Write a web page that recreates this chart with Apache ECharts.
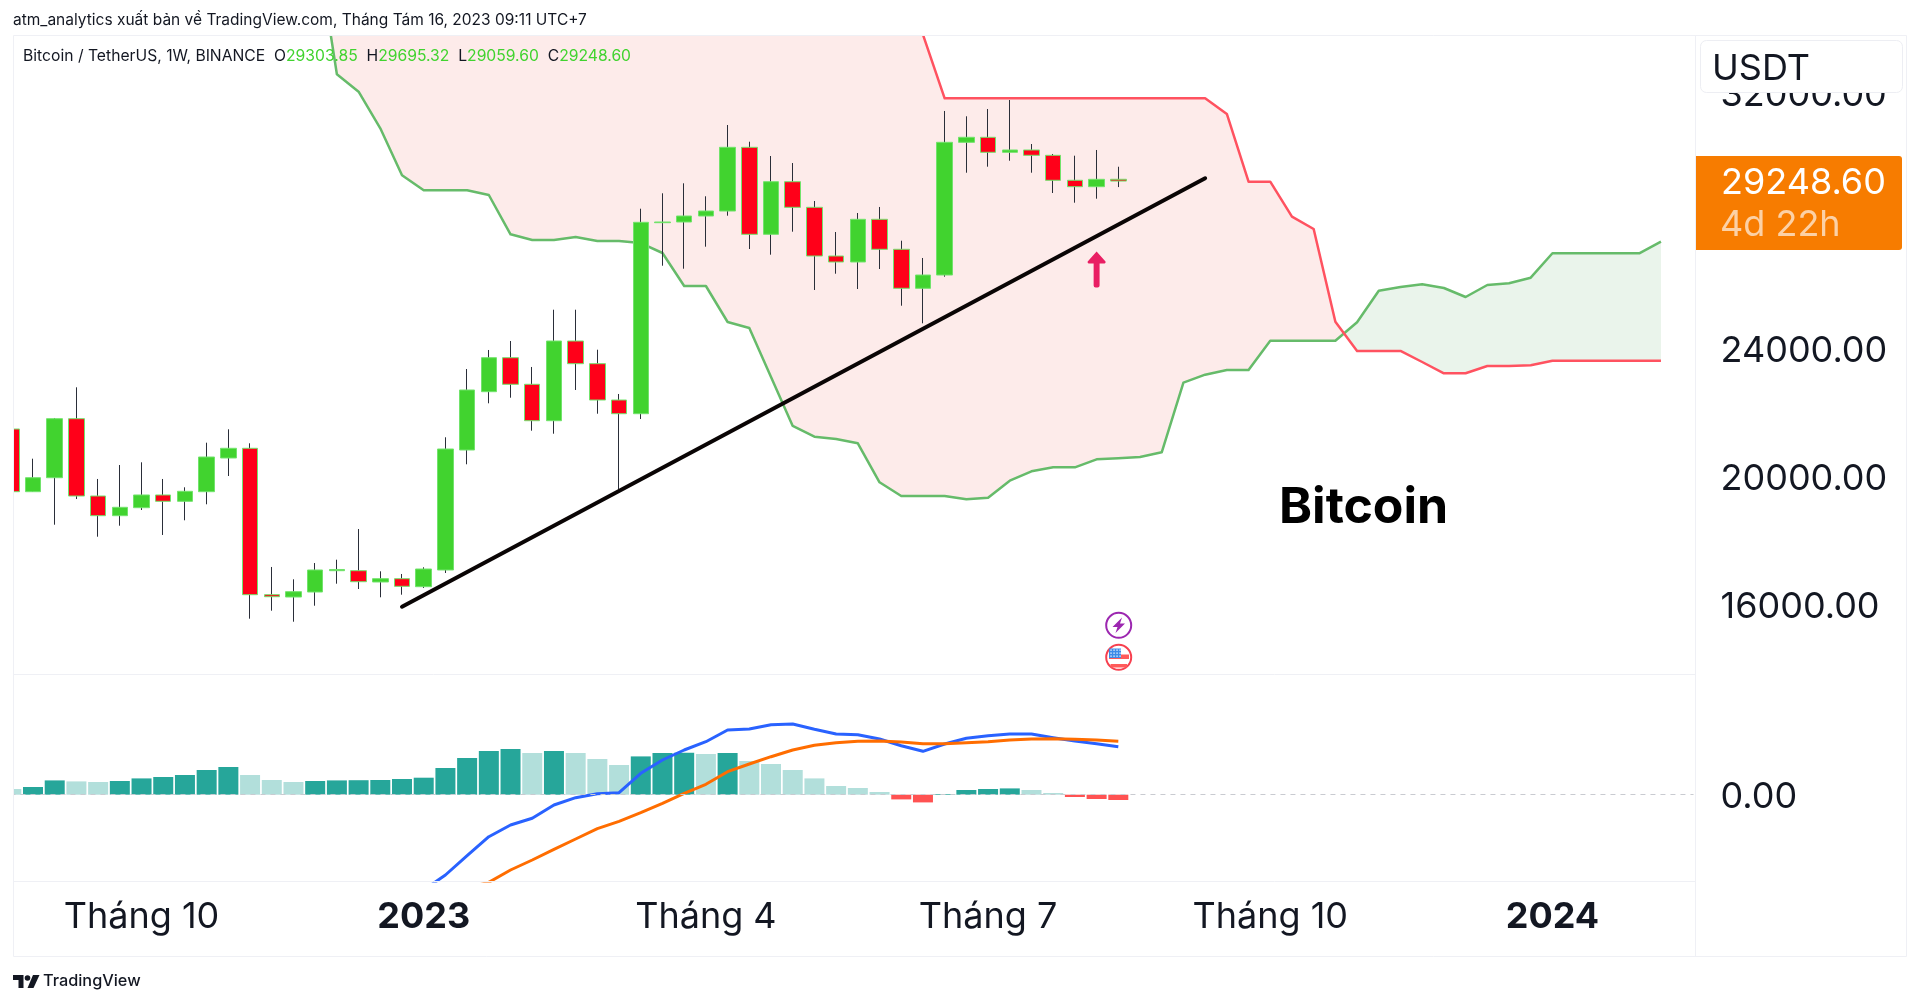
<!DOCTYPE html>
<html>
<head>
<meta charset="utf-8">
<title>Bitcoin / TetherUS</title>
<script src="https://cdn.jsdelivr.net/npm/echarts@6/dist/echarts.min.js"></script>
<style>
  html, body { margin: 0; padding: 0; background: #fff; }
  #main { width: 1920px; height: 1003px; }
</style>
</head>
<body>
<div id="main"></div>
<script>
const weeks = [
  '2022-08-22','2022-08-29','2022-09-05','2022-09-12','2022-09-19','2022-09-26','2022-10-03','2022-10-10',
  '2022-10-17','2022-10-24','2022-10-31','2022-11-07','2022-11-14','2022-11-21','2022-11-28','2022-12-05',
  '2022-12-12','2022-12-19','2022-12-26','2023-01-02','2023-01-09','2023-01-16','2023-01-23','2023-01-30',
  '2023-02-06','2023-02-13','2023-02-20','2023-02-27','2023-03-06','2023-03-13','2023-03-20','2023-03-27',
  '2023-04-03','2023-04-10','2023-04-17','2023-04-24','2023-05-01','2023-05-08','2023-05-15','2023-05-22',
  '2023-05-29','2023-06-05','2023-06-12','2023-06-19','2023-06-26','2023-07-03','2023-07-10','2023-07-17',
  '2023-07-24','2023-07-31','2023-08-07','2023-08-14','2023-08-21','2023-08-28','2023-09-04','2023-09-11',
  '2023-09-18','2023-09-25','2023-10-02','2023-10-09','2023-10-16','2023-10-23','2023-10-30','2023-11-06',
  '2023-11-13','2023-11-20','2023-11-27','2023-12-04','2023-12-11','2023-12-18','2023-12-25','2024-01-01',
  '2024-01-08','2024-01-15','2024-01-22','2024-01-29','2024-02-05','2024-02-12'
];
const tickDates = ['2022-10-03','2023-01-02','2023-04-03','2023-07-03','2023-10-02','2024-01-01'];
const tickLabels = ['Tháng 10','2023','Tháng 4','Tháng 7','Tháng 10','2024'];
const priceTicks = [16000,20000,24000,28000,32000];

const opens = [21500,19541,19978,21822,19406,18791,19041,19438,19241,19541,20594,20897,16322,16250,16406,17072,17072,16719,16822,16572,17094,20844,22666,23728,22897,21759,24250,23541,22406,21978,27947,27969,28156,28312,30303,27584,29228,28428,26906,26719,28053,27116,25897,26312,30459,30616,30147,30219,30053,29272,29072,29303.85];
const closes = [19541,19978,21822,19406,18791,19053,19438,19241,19553,20625,20897,16322,16259,16416,17094,17110,16728,16822,16584,17125,20875,22719,23728,22897,21759,24250,23541,22406,21978,27959,27969,28156,28312,30303,27584,29228,28428,26906,26719,28053,27116,25897,26312,30459,30616,30147,30219,30053,29272,29072,29303,29248.60];
const lows = [19400,19541,18509,19312,18134,18478,18969,18188,18647,19147,20031,15572,15822,15478,15978,16666,16500,16241,16322,16531,17000,20397,22303,22478,21447,21353,22719,21978,19616,21812,26603,26509,27197,28166,27125,26947,27666,25844,26353,25875,26500,25353,24803,26259,29509,29697,29884,29509,28875,28572,28697,29059.60];
const highs = [21800,20572,21844,22803,19938,20375,20459,19938,19678,21072,21491,21053,17188,16803,17312,17416,18375,17053,16969,17178,21241,23375,23969,24250,23438,25228,25228,23978,22594,28384,28866,29178,28772,31000,30478,30031,29812,28625,27656,28250,28438,27384,26844,31438,31272,31500,31781,30406,30094,30041,30219,29695.32];

// ichimoku cloud edges, null where nothing is drawn; the early red values sit above the pane
const cloudGreen = [null,null,null,null,null,null,null,null,null,null,null,null,null,null,36938,32584,32041,30897,29428,28959,28959,28959,28812,27584,27406,27406,27500,27375,27375,27312,27000,25969,25969,24844,24656,23125,21594,21259,21188,21053,19834,19406,19406,19406,19303,19353,19884,20178,20303,20303,20553,20584,20625,20772,22947,23197,23344,23344,24259,24259,24259,24259,24834,25822,25938,26022,25906,25625,26000,26053,26228,26991,26991,26991,26991,26991,27353,null];
const cloudRed = [null,null,null,null,null,null,null,null,null,null,null,null,null,null,38000,38000,38000,38000,38000,38000,38000,38000,38000,38000,37000,37000,37000,37000,37000,36000,36000,36000,36000,36000,35000,35000,35000,35000,35000,33822,33822,33822,33822,31834,31834,31834,31834,31834,31834,31834,31834,31834,31834,31834,31834,31834,31344,29228,29228,28134,27750,24853,23938,23938,23938,23594,23241,23241,23469,23469,23491,23634,23634,23634,23634,23634,23634,null];

const trendLine = [[18,15947],[55,29334]];
const arrowAt = [50,26484];

const macdHist = [57,77,143,133,127,137,163,177,197,247,277,197,147,127,137,143,145,147,157,170,267,367,437,457,417,437,417,357,297,383,417,420,407,417,337,307,247,163,87,67,27,-47,-77,7,47,57,63,47,17,-23,-43,-53];
const macdLine = [null,null,null,null,null,null,null,null,null,null,null,null,null,null,null,null,null,null,null,-953,-803,-610,-420,-303,-236,-103,-30,10,20,214,347,447,530,647,657,700,707,654,607,600,557,490,434,507,564,590,607,607,570,537,510,480];
const signalLine = [null,null,null,null,null,null,null,null,null,null,null,null,null,null,null,null,null,null,null,null,null,-933,-876,-753,-653,-546,-443,-340,-266,-180,-86,14,104,230,307,380,447,494,520,534,537,527,510,510,520,530,547,557,560,554,547,534];

const INK = '#131722';
const FONT = 'Inter';
const UP = '#41D32F';
const DOWN = '#FF0019';
const EDGE = '#72E36C';
const LAST = opens.length - 1;

const bodies = opens.map((o, i) => [o, closes[i], Math.min(o, closes[i]), Math.max(o, closes[i])]);
const wicks = opens.map((o, i) => [o, closes[i], lows[i], highs[i]]);

function histColor(v, i) {
  const prev = i > 0 ? macdHist[i - 1] : Infinity;
  if (v >= 0) return v > prev ? '#26A69A' : '#B2DFDB';
  return v < prev ? '#FF5252' : '#FFCDD2';
}

// the two clouds meet once, between weeks a and a + 1
function drawCloud(params, api) {
  const first = cloudGreen.findIndex(v => v != null);
  let a = first;
  while (cloudRed[a + 1] != null && cloudRed[a + 1] > cloudGreen[a + 1]) a++;
  let end = a;
  while (cloudRed[end + 1] != null) end++;
  const g = i => api.coord([i, cloudGreen[i]]);
  const r = i => api.coord([i, cloudRed[i]]);
  const ga = g(a), gb = g(a + 1), ra = r(a), rb = r(a + 1);
  const d1 = ga[1] - ra[1], d2 = gb[1] - rb[1];
  const t = d1 / (d1 - d2);
  const cross = [ga[0] + (gb[0] - ga[0]) * t, ga[1] + (gb[1] - ga[1]) * t];
  const pink = [], mint = [cross];
  for (let i = first; i <= a; i++) pink.push(r(i));
  pink.push(cross);
  for (let i = a; i >= first; i--) pink.push(g(i));
  for (let i = a + 1; i <= end; i++) mint.push(g(i));
  for (let i = end; i >= a + 1; i--) mint.push(r(i));
  return {
    type: 'group',
    children: [
      { type: 'polygon', shape: { points: pink }, style: { fill: '#FDEBEA' } },
      { type: 'polygon', shape: { points: mint }, style: { fill: '#EAF4EB' } }
    ]
  };
}

const lineOpts = (color, width) => ({
  type: 'line', showSymbol: false, symbol: 'none', silent: true, animation: false,
  lineStyle: { color: color, width: width, join: 'round' }
});

// white dots of the flag badge
const flagDots = [];
[1111, 1114, 1117, 1120].forEach(x => [650, 653, 656].forEach(y => {
  flagDots.push({ type: 'rect', z: 104, shape: { x: x - 0.6, y: y - 0.6, width: 1.3, height: 1.3 }, style: { fill: '#fff' } });
}));

const option = {
  animation: false,
  backgroundColor: '#fff',
  textStyle: { fontFamily: FONT },
  grid: [
    { left: 0.45, width: 1693.07, top: 33, height: 641 },
    { left: 0.45, width: 1693.07, top: 675, height: 206 }
  ],
  xAxis: [
    { type: 'category', gridIndex: 0, data: weeks, axisLine: { show: false }, axisTick: { show: false }, axisLabel: { show: false }, splitLine: { show: false } },
    {
      type: 'category', gridIndex: 1, data: weeks,
      axisLine: { show: false }, axisTick: { show: false }, splitLine: { show: false },
      axisLabel: {
        margin: 18,
        hideOverlap: false,
        interval: (i, v) => tickDates.includes(v),
        formatter: v => {
          const t = tickLabels[tickDates.indexOf(v)];
          return /^\d+$/.test(t) ? '{y|' + t + '}' : '{m|' + t + '}';
        },
        rich: {
          m: { fontFamily: FONT, fontSize: 36, color: INK },
          y: { fontFamily: FONT, fontSize: 36, fontWeight: 'bold', color: INK }
        }
      }
    }
  ],
  yAxis: [
    {
      type: 'value', gridIndex: 0, position: 'right', min: 13843.75, max: 33875, scale: true,
      axisLine: { show: false }, axisTick: { show: false }, splitLine: { show: false },
      axisLabel: { customValues: priceTicks, margin: 27, verticalAlign: 'top', lineHeight: 5, fontFamily: FONT, fontSize: 36, color: INK, formatter: v => v.toFixed(2) }
    },
    {
      type: 'value', gridIndex: 1, position: 'right', min: -863, max: 1197,
      axisLine: { show: false }, axisTick: { show: false }, splitLine: { show: false },
      axisLabel: { customValues: [0], margin: 27, verticalAlign: 'top', lineHeight: 5, fontFamily: FONT, fontSize: 36, color: INK, formatter: v => v.toFixed(2) }
    }
  ],
  series: [
    { name: 'Cloud', type: 'custom', xAxisIndex: 0, yAxisIndex: 0, clip: true, silent: true, z: 1, renderItem: drawCloud, data: [0] },
    Object.assign(lineOpts('#66BB6A', 2.5), { name: 'Leading A', xAxisIndex: 0, yAxisIndex: 0, z: 2, data: cloudGreen }),
    Object.assign(lineOpts('#FF5260', 2.5), { name: 'Leading B', xAxisIndex: 0, yAxisIndex: 0, z: 2, data: cloudRed }),
    {
      name: 'Wicks', type: 'candlestick', xAxisIndex: 0, yAxisIndex: 0, z: 3, silent: true, barWidth: 1, data: wicks,
      itemStyle: { color: '#2A2E39', color0: '#2A2E39', borderColor: '#2A2E39', borderColor0: '#2A2E39', borderWidth: 1 }
    },
    {
      name: 'BTCUSDT', type: 'candlestick', xAxisIndex: 0, yAxisIndex: 0, z: 4, silent: true, barWidth: 16, data: bodies,
      itemStyle: { color: UP, color0: DOWN, borderColor: EDGE, borderColor0: EDGE, borderWidth: 1 },
      markPoint: {
        silent: true, animation: false,
        symbol: 'path://M9 0L18 10Q18.5 12 16 12L12 12L12 34Q12 36 10 36L8 36Q6 36 6 34L6 12L2 12Q-.5 12 0 10Z',
        symbolSize: [18, 36],
        label: { show: false },
        itemStyle: { color: '#E91E63' },
        data: [{ coord: arrowAt }]
      }
    },
    Object.assign(lineOpts('#0A0505', 4), { name: 'Trend', xAxisIndex: 0, yAxisIndex: 0, z: 5, data: trendLine, lineStyle: { color: '#0A0505', width: 4, cap: 'round' } }),
    {
      name: 'Histogram', type: 'bar', xAxisIndex: 1, yAxisIndex: 1, barWidth: 20, silent: true, z: 2,
      data: macdHist.map((v, i) => ({ value: v, itemStyle: { color: histColor(v, i) } })),
      markLine: {
        silent: true, symbol: 'none', animation: false, label: { show: false },
        lineStyle: { color: '#C9CBD1', width: 1, type: [5, 5] },
        data: [{ yAxis: 0 }]
      }
    },
    Object.assign(lineOpts('#2962FF', 3), { name: 'MACD', xAxisIndex: 1, yAxisIndex: 1, z: 3, data: macdLine }),
    Object.assign(lineOpts('#FF6D00', 3), { name: 'Signal', xAxisIndex: 1, yAxisIndex: 1, z: 4, data: signalLine })
  ],
  graphic: { elements: [
    // masks and frame
    { type: 'rect', z: 100, shape: { x: 0, y: 0, width: 13, height: 1003 }, style: { fill: '#fff' } },
    { type: 'rect', z: 100, shape: { x: 0, y: 0, width: 1920, height: 35 }, style: { fill: '#fff' } },
    { type: 'rect', z: 101, shape: { x: 13.5, y: 35.5, width: 1893, height: 921 }, style: { fill: 'none', stroke: '#EFF0F5', lineWidth: 1 } },
    { type: 'line', z: 101, shape: { x1: 1695.5, y1: 35, x2: 1695.5, y2: 957 }, style: { stroke: '#EFF0F5', lineWidth: 1 } },
    { type: 'line', z: 101, shape: { x1: 13, y1: 674.5, x2: 1695, y2: 674.5 }, style: { stroke: '#EFF0F5', lineWidth: 1 } },
    { type: 'line', z: 101, shape: { x1: 13, y1: 881.5, x2: 1695, y2: 881.5 }, style: { stroke: '#EFF0F5', lineWidth: 1 } },
    // header and legend
    { type: 'text', z: 102, x: 13, y: 20.5, style: { text: 'atm_analytics xuất bản về TradingView.com, Tháng Tám 16, 2023 09:11 UTC+7', font: '15.5px Inter', fill: INK, verticalAlign: 'middle' } },
    {
      type: 'text', z: 102, x: 23, y: 56,
      style: {
        text: 'Bitcoin / TetherUS, 1W, BINANCE  {k|O}{v|' + opens[LAST].toFixed(2) + '}  {k|H}{v|' + highs[LAST].toFixed(2) + '}  {k|L}{v|' + lows[LAST].toFixed(2) + '}  {k|C}{v|' + closes[LAST].toFixed(2) + '}',
        font: '15.7px Inter', fill: INK, verticalAlign: 'middle',
        rich: { k: { font: '15.7px Inter', fill: INK }, v: { font: '15.7px Inter', fill: UP } }
      }
    },
    // currency box
    { type: 'rect', z: 102, shape: { x: 1700.5, y: 40.5, width: 202, height: 52, r: 6 }, style: { fill: '#fff', stroke: '#EDEEF3', lineWidth: 1 } },
    { type: 'text', z: 103, x: 1712, y: 69, style: { text: 'USDT', font: '36px Inter', fill: INK, verticalAlign: 'middle' } },
    // last price tag
    { type: 'rect', z: 102, shape: { x: 1696, y: 156, width: 206, height: 94, r: [0, 3, 3, 0] }, style: { fill: '#F77C00' } },
    { type: 'text', z: 103, x: 1721, y: 183, style: { text: closes[LAST].toFixed(2), font: '36px Inter', fill: '#fff', verticalAlign: 'middle' } },
    { type: 'text', z: 103, x: 1720, y: 225, style: { text: '4d 22h', font: '36px Inter', fill: 'rgba(255,255,255,0.65)', verticalAlign: 'middle' } },
    // chart title
    { type: 'text', z: 102, x: 1279, y: 508, style: { text: 'Bitcoin', font: 'bold 50px Inter', fill: '#000', verticalAlign: 'middle' } },
    // event badges
    { type: 'circle', z: 102, shape: { cx: 1118.7, cy: 625.3, r: 12.5 }, style: { fill: '#fff', stroke: '#9C27B0', lineWidth: 2 } },
    { type: 'polygon', z: 103, shape: { points: [[1122, 617.5], [1112.5, 627], [1117.5, 627], [1115.5, 633], [1125, 623.5], [1120, 623.5]] }, style: { fill: '#9C27B0' } },
    { type: 'circle', z: 102, shape: { cx: 1118.7, cy: 657.3, r: 12.5 }, style: { fill: '#fff', stroke: '#F7404F', lineWidth: 2 } },
    { type: 'rect', z: 103, shape: { x: 1109, y: 654.5, width: 20, height: 4.5 }, style: { fill: '#FF5A5A' } },
    { type: 'rect', z: 103, shape: { x: 1110.5, y: 664, width: 16.5, height: 3.5 }, style: { fill: '#FF5A5A' } },
    { type: 'rect', z: 103, shape: { x: 1109, y: 648.5, width: 12, height: 9.5 }, style: { fill: '#3D8BE8' } },
    ...flagDots,
    // logo
    { type: 'polygon', z: 102, shape: { points: [[13, 975], [23.5, 975], [23.5, 988], [18.5, 988], [18.5, 980], [13, 980]] }, style: { fill: INK } },
    { type: 'polygon', z: 102, shape: { points: [[33, 975], [39.5, 975], [33.5, 988], [27.5, 988]] }, style: { fill: INK } },
    { type: 'circle', z: 102, shape: { cx: 27.5, cy: 978, r: 2.8 }, style: { fill: INK } },
    { type: 'text', z: 102, x: 43, y: 981, style: { text: 'TradingView', font: '500 16.3px Inter', fill: INK, verticalAlign: 'middle' } }
  ] }
};

var myChart = echarts.init(document.getElementById('main'), null, { renderer: 'canvas' });
myChart.setOption(option);
</script>
</body>
</html>
